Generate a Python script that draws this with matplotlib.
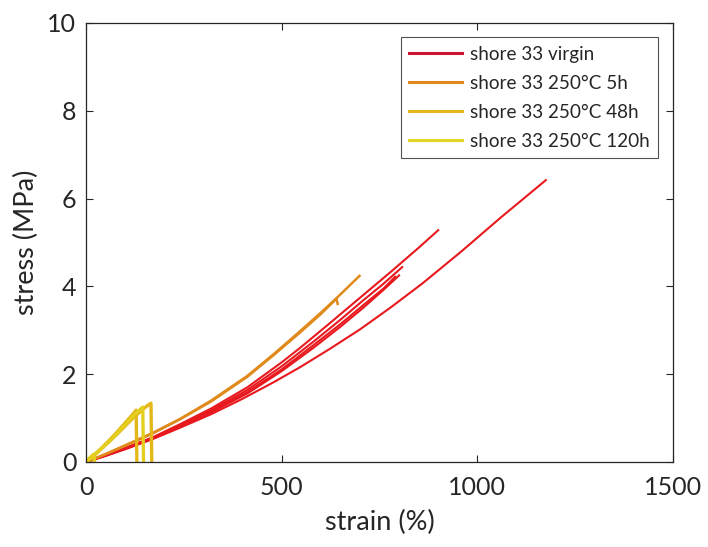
import matplotlib
matplotlib.use("Agg")
import matplotlib.pyplot as plt
from matplotlib.lines import Line2D

# ---- data (strain in %, stress in MPa) ----
virgin_strain = [
    [0, 50, 100, 170, 240, 320, 400, 480, 547, 620, 700, 780, 860, 957, 1060, 1175],
    [0, 50, 100, 170, 240, 320, 412, 500, 547, 620, 700, 780, 850, 900],
    [0, 50, 100, 170, 240, 320, 412, 500, 581, 650, 708, 760, 808],
    [0, 50, 100, 170, 240, 320, 412, 500, 581, 650, 708, 760, 790],
    [0, 50, 100, 170, 240, 320, 412, 500, 581, 650, 708, 760, 800],
]
virgin_stress = [
    [0, 0.14, 0.29, 0.52, 0.78, 1.09, 1.44, 1.82, 2.16, 2.56, 3.02, 3.53, 4.07, 4.78, 5.57, 6.42],
    [0, 0.15, 0.32, 0.56, 0.86, 1.22, 1.70, 2.27, 2.60, 3.14, 3.74, 4.34, 4.88, 5.28],
    [0, 0.15, 0.31, 0.55, 0.84, 1.18, 1.64, 2.18, 2.74, 3.24, 3.68, 4.06, 4.44],
    [0, 0.15, 0.30, 0.54, 0.82, 1.15, 1.59, 2.11, 2.66, 3.14, 3.57, 3.95, 4.22],
    [0, 0.14, 0.30, 0.53, 0.80, 1.13, 1.56, 2.07, 2.60, 3.08, 3.51, 3.92, 4.25],
]
h5_strain = [
    [0, 50, 100, 170, 240, 320, 412, 480, 547, 600, 641, 699],
    [0, 50, 100, 170, 240, 320, 412, 480, 547, 600, 640, 643],
]
h5_stress = [
    [0, 0.18, 0.38, 0.66, 0.98, 1.40, 1.96, 2.46, 2.98, 3.40, 3.74, 4.24],
    [0, 0.18, 0.37, 0.65, 0.97, 1.38, 1.94, 2.44, 2.95, 3.37, 3.72, 3.60],
]
h48_strain = [
    [0, 20, 40, 60, 80, 100, 115, 128, 130],
    [0, 20, 40, 60, 80, 100, 120, 140, 155, 166, 168],
]
h48_stress = [
    [0, 0.15, 0.32, 0.50, 0.69, 0.89, 1.04, 1.18, 0],
    [0, 0.15, 0.31, 0.47, 0.64, 0.82, 1.00, 1.16, 1.27, 1.34, 0],
]
h120_strain = [
    [0, 20, 40, 60, 80, 100, 120, 135, 145, 147],
    [0, 10, 20, 22],
]
h120_stress = [
    [0, 0.15, 0.31, 0.48, 0.66, 0.85, 1.04, 1.17, 1.25, 0],
    [0, 0.10, 0.18, 0],
]
labels = ["shore 33 virgin", "shore 33 250°C 5h", "shore 33 250°C 48h", "shore 33 250°C 120h"]
colors = ["#CC1530", "#E08A1C", "#E3B718", "#E4D526"]
curve_colors = ["#E8191E", "#E08A1C", "#E3B718", "#E4CF1E"]

plt.rcParams['font.family'] = ['Lato', 'DejaVu Sans']

fig = plt.figure(figsize=(7.08, 5.47), dpi=100)
ax = fig.add_axes([0.1215, 0.1554, 0.8291, 0.8026])

groups = [
    (virgin_strain, virgin_stress, 1.5),
    (h5_strain, h5_stress, 1.8),
    (h48_strain, h48_stress, 2.4),
    (h120_strain, h120_stress, 2.4),
]
for gi, (xs, ys, lw) in enumerate(groups):
    for x, y in zip(xs, ys):
        ax.plot(x, y, color=curve_colors[gi], lw=lw, solid_joinstyle='round')

ax.set_xlim(0, 1500)
ax.set_ylim(0, 10)
ax.set_xticks([0, 500, 1000, 1500])
ax.set_yticks([0, 2, 4, 6, 8, 10])
ax.tick_params(direction='in', top=True, right=True, labelsize=18,
               colors='#262626', length=5, width=0.8)
ax.tick_params(axis='x', pad=10)
ax.tick_params(axis='y', pad=7)
for s in ax.spines.values():
    s.set_color('#262626')
    s.set_linewidth(0.9)
ax.set_xlabel("strain (%)", fontsize=19.5, color='#262626', labelpad=8)
ax.set_ylabel("stress (MPa)", fontsize=19.5, color='#262626', labelpad=6)

handles = [Line2D([0], [0], color=c, lw=2.2) for c in colors]
leg = ax.legend(handles, labels, loc='upper right', bbox_to_anchor=(0.974, 0.968),
                fontsize=13.6, frameon=True, fancybox=False, edgecolor='#262626',
                handlelength=2.8, handletextpad=0.4, borderpad=0.45,
                labelspacing=0.64, borderaxespad=0)
leg.get_frame().set_linewidth(0.8)
for t in leg.get_texts():
    t.set_color('#262626')

fig.savefig("out.png", dpi=100)
